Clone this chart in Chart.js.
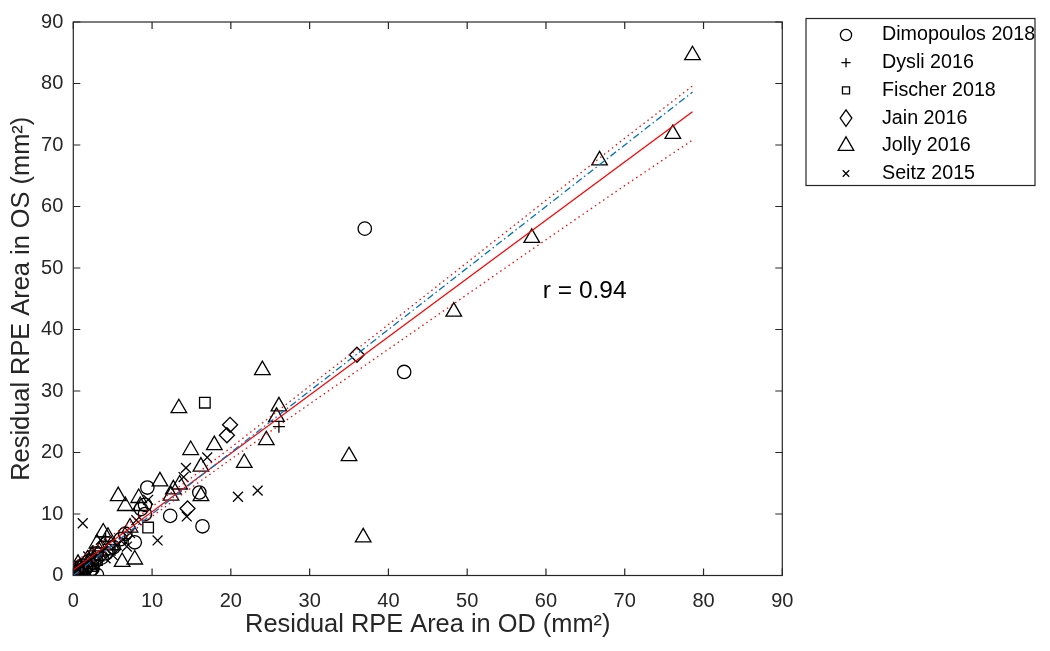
<!DOCTYPE html>
<html>
<head>
<meta charset="utf-8">
<script src="https://cdn.jsdelivr.net/npm/chart.js@4.4.1/dist/chart.umd.min.js"></script>
<style>
  html, body { margin: 0; padding: 0; background: #fff; }
  #wrap { width: 1050px; height: 651px; }
</style>
</head>
<body>
<div id="wrap"><canvas id="chart" width="1050" height="651"></canvas></div>
<script>
// residual RPE area, OD (x) vs OS (y), mm²
const dimopoulosOD = [37.0, 42.0, 16.0, 16.4, 12.3, 9.4, 9.1, 9.1, 6.6, 7.8, 3.0, 0.2, 0.5, 0.9, 1.3, 0.4, 1.6, 2.1, 2.6, 3.6, 4.2, 5.1, 1.1, 0.1, 6.0, 8.6, 2.9, 1.9, 0.3, 0.7, 1.0, 0.2, 1.4, 2.4, 0.6];
const dimopoulosOS = [56.4, 33.1, 13.5, 8.0, 9.7, 14.3, 11.5, 10.0, 6.8, 5.4, 0.1, 0.1, 0.4, 0.7, 0.2, 1.0, 1.2, 0.7, 2.0, 2.9, 3.6, 4.6, 1.6, 0.5, 5.9, 10.8, 3.6, 2.3, 0.2, 0.1, 0.4, 0.8, 0.9, 1.1, 1.3];

const dysliOD = [26.1, 4.1, 1.8, 0.6, 3.2, 2.5, 6.5, 5.3];
const dysliOS = [24.2, 6.3, 1.5, 1.0, 2.4, 4.0, 6.0, 4.2];

const fischerOD = [16.7, 9.5, 3.0, 1.0, 4.5];
const fischerOS = [28.1, 7.8, 2.5, 0.8, 4.2];

const jainOD = [36.0, 19.9, 19.5, 14.5, 2.0, 0.5];
const jainOS = [35.9, 24.5, 22.8, 10.9, 1.5, 0.4];

const jollyOD = [78.6, 76.1, 66.8, 58.2, 48.3, 35.0, 36.8, 24.0, 26.1, 25.8, 24.5, 21.7, 17.9, 14.9, 13.4, 16.2, 11.0, 13.5, 12.7, 12.4, 16.2, 5.7, 6.6, 8.3, 8.5, 3.8, 3.0, 6.2, 7.8, 4.8, 3.3, 1.8, 0.9, 0.3, 2.2, 2.4, 4.4, 7.2, 1.3, 0.6];
const jollyOS = [84.6, 71.8, 67.5, 54.9, 42.9, 19.4, 6.2, 33.4, 27.5, 25.8, 22.0, 18.3, 21.2, 20.4, 27.2, 17.7, 15.3, 14.8, 14.0, 13.0, 12.9, 12.9, 11.3, 12.6, 11.3, 7.0, 5.2, 2.2, 2.6, 4.9, 3.9, 2.6, 1.3, 0.5, 1.4, 3.3, 6.3, 7.8, 0.6, 1.9];

const seitzOD = [1.2, 10.7, 14.4, 20.9, 23.4, 17.0, 14.3, 14.0, 9.5, 5.5, 4.5, 3.8, 3.0, 2.2, 1.5, 6.3, 7.2, 0.6, 2.8, 5.0, 8.0, 3.5, 6.8, 1.9, 4.1];
const seitzOS = [8.5, 5.7, 9.6, 12.8, 13.8, 19.2, 17.5, 16.0, 12.3, 5.0, 5.2, 4.0, 3.2, 2.4, 1.8, 5.8, 6.9, 0.5, 1.7, 3.3, 9.0, 5.8, 4.7, 3.1, 2.8];

// regression line, its confidence band and the line of identity
const fitOD = [0, 78.6];
const fitOS = [0.9, 75.4];
const identityOD = [0, 78.6];
const identityOS = [0, 78.6];
const bandOD = [0, 5, 10, 15, 20, 30, 40, 50, 60, 70, 78.6];
const bandUpper = [2.0, 6.6, 11.2, 15.9, 20.8, 30.8, 40.8, 50.9, 61.0, 71.1, 79.6];
const bandLower = [-0.2, 4.7, 9.6, 14.3, 18.9, 27.9, 36.8, 45.7, 54.6, 63.4, 70.8];

const studies = ['Dimopoulos 2018', 'Dysli 2016', 'Fischer 2018', 'Jain 2016', 'Jolly 2016', 'Seitz 2015'];
const rLabel = 'r = 0.94';
const rPos = [59.6, 45.2];

const FONT = "Arial, 'Liberation Sans', Helvetica, sans-serif";
const AXIS = '#262626';

const pts = (xs, ys) => xs.map((x, i) => ({ x: x, y: ys[i] }));

const markers = [
  { style: 'circle', r: 6.7, lr: 5.6 },
  { style: 'cross', r: 6, lr: 4.6 },
  { style: 'rect', r: 7.5, lr: 5.0 },
  { style: 'rectRot', r: 7.5, lr: 8.3, lw: 11.7 },
  { style: 'triangle', r: 9, lr: 9.0 },
  { style: 'crossRot', r: 7, lr: 4.6 }
];
const seriesData = [
  pts(dimopoulosOD, dimopoulosOS),
  pts(dysliOD, dysliOS),
  pts(fischerOD, fischerOS),
  pts(jainOD, jainOS),
  pts(jollyOD, jollyOS),
  pts(seitzOD, seitzOS)
];

function lineSet(data, color, dash, width) {
  return {
    type: 'line', data: data, showLine: true, fill: false,
    borderColor: color, borderWidth: width, borderDash: dash,
    pointRadius: 0, tension: 0
  };
}

const datasets = [
  lineSet(pts(identityOD, identityOS), '#0072BD', [7, 3, 1.5, 3], 1.3),
  lineSet(pts(fitOD, fitOS), '#FF0000', [], 1.3),
  lineSet(pts(bandOD, bandUpper), '#FF0000', [1.5, 3.5], 1.3),
  lineSet(pts(bandOD, bandLower), '#FF0000', [1.5, 3.5], 1.3)
];
studies.forEach((name, i) => {
  datasets.push({
    label: name,
    data: seriesData[i],
    pointStyle: markers[i].style,
    pointRadius: markers[i].r,
    pointBorderColor: '#000',
    pointBackgroundColor: 'rgba(0,0,0,0)',
    pointBorderWidth: 1.3,
    showLine: false
  });
});

// box around the axes with inward ticks on all four sides
const boxPlugin = {
  id: 'box',
  afterDraw(chart) {
    const { ctx, chartArea: a, scales: { x, y } } = chart;
    ctx.save();
    ctx.strokeStyle = AXIS;
    ctx.lineWidth = 1.2;
    ctx.strokeRect(a.left, a.top, a.right - a.left, a.bottom - a.top);
    ctx.beginPath();
    x.ticks.forEach(t => {
      const px = x.getPixelForValue(t.value);
      ctx.moveTo(px, a.bottom); ctx.lineTo(px, a.bottom - 7);
      ctx.moveTo(px, a.top); ctx.lineTo(px, a.top + 7);
    });
    y.ticks.forEach(t => {
      const py = y.getPixelForValue(t.value);
      ctx.moveTo(a.left, py); ctx.lineTo(a.left + 7, py);
      ctx.moveTo(a.right, py); ctx.lineTo(a.right - 7, py);
    });
    ctx.stroke();

    // correlation label
    ctx.fillStyle = '#000';
    ctx.font = '24.5px ' + FONT;
    ctx.textAlign = 'left';
    ctx.textBaseline = 'alphabetic';
    ctx.fillText(rLabel, x.getPixelForValue(rPos[0]), y.getPixelForValue(rPos[1]));
    ctx.restore();
  }
};

// legend in a framed box to the right
const legendPlugin = {
  id: 'boxLegend',
  afterDraw(chart) {
    const ctx = chart.ctx;
    const left = 806, top = 18.5, w = 229, h = 167;
    ctx.save();
    ctx.fillStyle = '#fff';
    ctx.fillRect(left, top, w, h);
    ctx.strokeStyle = AXIS;
    ctx.lineWidth = 1.2;
    ctx.strokeRect(left, top, w, h);
    studies.forEach((name, i) => {
      const cy = 35 + i * 27.7;
      ctx.strokeStyle = '#000';
      ctx.fillStyle = 'rgba(0,0,0,0)';
      ctx.lineWidth = 1.3;
      Chart.helpers.drawPointLegend(ctx, {
        pointStyle: markers[i].style, radius: markers[i].lr, borderWidth: 1.3, rotation: 0
      }, 846, cy, markers[i].lw);
      ctx.fillStyle = '#000';
      ctx.font = '19.7px ' + FONT;
      ctx.textAlign = 'left';
      ctx.textBaseline = 'middle';
      ctx.fillText(name, 882, cy);
    });
    ctx.restore();
  }
};

new Chart(document.getElementById('chart'), {
  type: 'scatter',
  data: { datasets: datasets },
  plugins: [boxPlugin, legendPlugin],
  options: {
    responsive: false,
    devicePixelRatio: 1,
    animation: false,
    events: [],
    layout: { padding: { left: 0, right: 267.7, top: 14.7, bottom: 0 } },
    plugins: { legend: { display: false }, tooltip: { enabled: false } },
    scales: {
      x: {
        type: 'linear', min: 0, max: 90,
        grid: { display: false, drawTicks: false },
        border: { display: false },
        ticks: { stepSize: 10, padding: 14, color: AXIS, font: { family: FONT, size: 20 } },
        title: {
          display: true, text: 'Residual RPE Area in OD (mm²)', color: AXIS,
          font: { family: FONT, size: 25.4 }, padding: { top: 0, bottom: 11 }
        },
        afterFit(s) { s.height = 75.5; }
      },
      y: {
        type: 'linear', min: 0, max: 90,
        grid: { display: false, drawTicks: false },
        border: { display: false },
        ticks: { stepSize: 10, padding: 10, color: AXIS, font: { family: FONT, size: 20 } },
        title: {
          display: true, text: 'Residual RPE Area in OS (mm²)', color: AXIS,
          font: { family: FONT, size: 25.4 }, padding: { top: 7, bottom: 0 }
        },
        afterFit(s) { s.width = 73.3; }
      }
    }
  }
});
</script>
</body>
</html>
